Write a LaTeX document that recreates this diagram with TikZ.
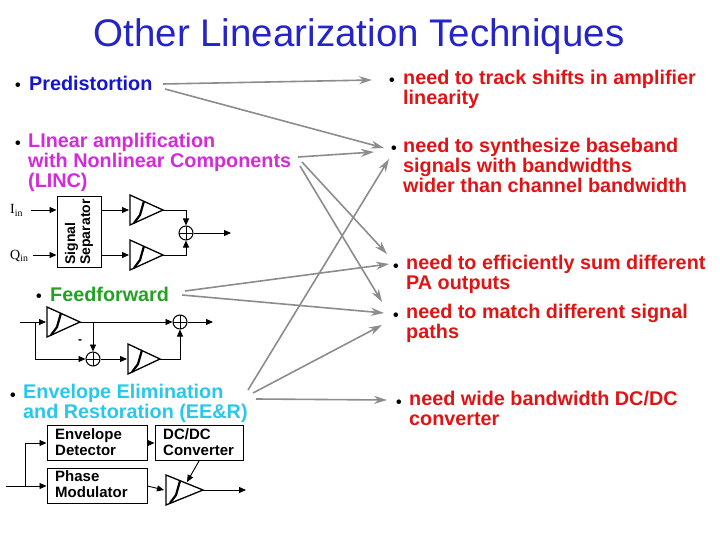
\documentclass[tikz,border=0pt]{standalone}
\usepackage{fontspec}
\setmainfont{Liberation Sans}
\newfontfamily\serifx{Liberation Serif}
\usetikzlibrary{arrows.meta}
\definecolor{tblue}{HTML}{2424C8}
\definecolor{pblue}{HTML}{1414D2}
\definecolor{tred}{HTML}{E01414}
\definecolor{tmag}{HTML}{D42AD8}
\definecolor{tgreen}{HTML}{24A024}
\definecolor{tcyan}{HTML}{28C8EC}
\definecolor{tgray}{HTML}{8C8C8C}
\newcommand\myamp[3]{%
 \draw[line width=1.3pt,line join=miter] (#1,#2-15) -- (#1+#3,#2) -- (#1,#2+15) -- cycle;
 \draw[line width=2.2pt] (#1+4,#2+13) -- (#1+10,#2+5) -- (#1+14,#2-9);}
\begin{document}
\begin{tikzpicture}[x=1pt,y=-1pt,
 lab/.style={anchor=base west,font=\bfseries\fontsize{19.8}{20}\selectfont,inner sep=0},
 bul/.style={anchor=base,font=\bfseries\fontsize{16}{20}\selectfont,inner sep=0},
 link/.style={tgray,line width=1.6pt,-{Stealth[length=13pt,width=8pt]}},
 wire/.style={line width=0.9pt},
 warr/.style={line width=0.9pt,-{Triangle[length=7pt,width=6pt]}},
 blk/.style={draw,line width=1pt,inner sep=0},
 btxt/.style={font=\bfseries\fontsize{15}{16}\selectfont,align=left,anchor=north west,inner sep=0},
 sumc/.style={draw,circle,line width=1pt,minimum size=14pt,inner sep=0,path picture={\draw[line width=1pt] (path picture bounding box.north) -- (path picture bounding box.south) (path picture bounding box.west) -- (path picture bounding box.east);}}]
\useasboundingbox (0,0) rectangle (720,540);
\node[font=\fontsize{38.5}{40}\selectfont,text=tblue,anchor=base] (title) at (359,47) {Other Linearization Techniques};
% left labels
\node[bul] (b1) at (18,91) {•};
\node[lab,text=pblue] (pre) at (29,91) {Predistortion};
\node[bul] (b2) at (18,149) {•};
\node[lab,text=tmag,align=left,anchor=north west] (linc) at (28,133) {LInear amplification\\with Nonlinear Components\\(LINC)};
\node[bul] (b3) at (39,301) {•};
\node[lab,text=tgreen] (ff) at (50,301) {Feedforward};
\node[bul] (b4) at (13,400) {•};
\node[lab,text=tcyan,align=left,anchor=north west] (eer) at (23,384) {Envelope Elimination\\and Restoration (EE\&R)};
% right labels
\tikzset{rl/.style={lab,text=tred,align=left,anchor=north west}}
\node[bul] (c1) at (392,86) {•};
\node[rl] (r1) at (403,70) {need to track shifts in amplifier\\linearity};
\node[bul] (c2) at (394,154) {•};
\node[rl] (r2) at (403,138) {need to synthesize baseband\\signals with bandwidths\\wider than channel bandwidth};
\node[bul] (c3) at (396,271) {•};
\node[rl] (r3) at (406,255) {need to efficiently sum different\\PA outputs};
\node[bul] (c4) at (396,320) {•};
\node[rl] (r4) at (406,304) {need to match different signal\\paths};
\node[bul] (c5) at (399,407) {•};
\node[rl] (r5) at (409,391) {need wide bandwidth DC/DC\\converter};
% links
\coordinate (p1) at (163,84); \coordinate (p2) at (165,89);
\coordinate (l1) at (298,157); \coordinate (l2) at (302,162); \coordinate (l3) at (300,166);
\coordinate (f1) at (185,291); \coordinate (f2) at (182,295);
\coordinate (e1) at (248,390); \coordinate (e2) at (253,393); \coordinate (e3) at (256,399);
\coordinate (t1) at (372,80); \coordinate (t2a) at (384,148); \coordinate (t2b) at (374,152); \coordinate (t2c) at (389,159);
\coordinate (t3a) at (387,254); \coordinate (t3b) at (389,264);
\coordinate (t4a) at (382,302); \coordinate (t4b) at (384,313); \coordinate (t4c) at (382,325);
\coordinate (t5) at (387,400);
\draw[link] (p1) -- (t1); \draw[link] (p2) -- (t2a);
\draw[link] (l1) -- (t2b); \draw[link] (l2) -- (t3a); \draw[link] (l3) -- (t4a);
\draw[link] (f1) -- (t3b); \draw[link] (f2) -- (t4b);
\draw[link] (e1) -- (t2c); \draw[link] (e2) -- (t4c); \draw[link] (e3) -- (t5);
% LINC circuit
\node[font=\serifx\fontsize{14}{14}\selectfont,anchor=base west,inner sep=0] (iin) at (10,214) {I\textsubscript{in}};
\node[font=\serifx\fontsize{14}{14}\selectfont,anchor=base west,inner sep=0] (qin) at (10,259) {Q\textsubscript{in}};
\node[blk,minimum width=44pt,minimum height=70pt] (sep) at (79,232) {};
\node[rotate=90,font=\bfseries\fontsize{14}{15}\selectfont,align=left,inner sep=0] (septxt) at (79,232) {Signal\\Separator};
\draw[warr] (31,210) -- (sep.west |- 0,210);
\draw[warr] (33,255) -- (sep.west |- 0,255);
\draw[warr] (sep.east |- 0,210) -- (129,210);
\draw[warr] (sep.east |- 0,255) -- (129,255);
\myamp{130}{210}{33}
\myamp{130}{255}{33}
\node[sumc] (s1) at (186,233) {};
\draw[warr] (163,210) -| (s1.north);
\draw[warr] (163,255) -| (s1.south);
\draw[warr] (s1.east) -- (231,233);
% Feedforward circuit
\draw[warr] (20,322) -- (46,322);
\myamp{47}{322}{33}
\node[sumc] (s2) at (180,322) {};
\node[sumc] (s3) at (93,359) {};
\draw[warr] (80,322) -- (s2.west);
\draw[warr] (s2.east) -- (213,322);
\draw[wire] (35,322) |- (60,359);
\draw[warr] (60,359) -- (s3.west);
\draw[warr] (93,322) -- (s3.north);
\node[font=\bfseries\fontsize{12}{12}\selectfont,inner sep=0] (minus) at (80,342) {-};
\draw[warr] (s3.east) -- (127,359);
\myamp{128}{359}{32}
\draw[warr] (160,359) -| (s2.south);
% EER circuit
\node[blk,minimum width=100pt,minimum height=35pt] (env) at (97,443) {};
\node[btxt] (envt) at (55,428) {Envelope\\Detector};
\node[blk,minimum width=100pt,minimum height=35pt] (pm) at (97,486) {};
\node[btxt] (pmt) at (55,470) {Phase\\Modulator};
\node[blk,minimum width=88pt,minimum height=35pt] (dc) at (199,443) {};
\node[btxt] (dct) at (163,428) {DC/DC\\Converter};
\draw[wire] (6,486) -- (25,486);
\draw[warr] (25,486) |- (env.west);
\draw[warr] (25,486) -- (pm.west);
\draw[warr] (env.east) -- (dc.west);
\draw[warr] (pm.east) -- (164,490);
\myamp{166}{490}{37}
\draw[warr] (dc.south) -- (187,482);
\draw[warr] (203,490) -- (246,490);
\end{tikzpicture}
\end{document}
